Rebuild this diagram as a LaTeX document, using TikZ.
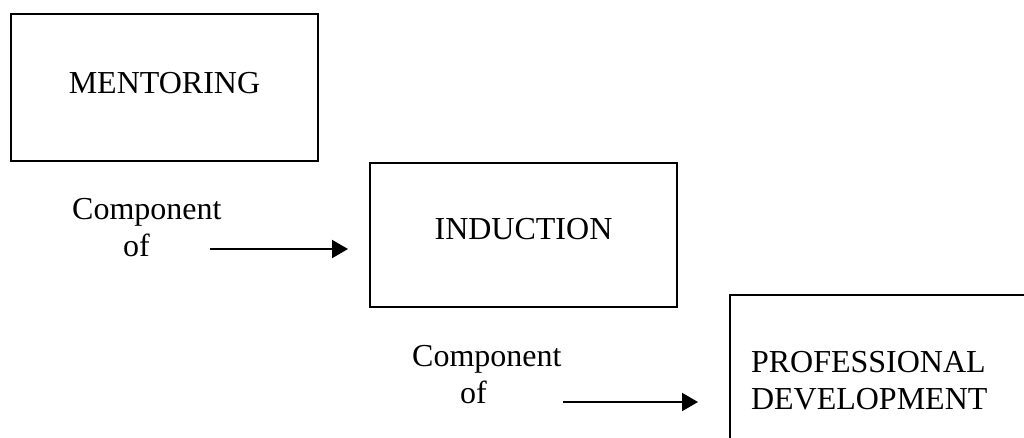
\documentclass[tikz,border=0pt]{standalone}
\usepackage{fontspec}
\setmainfont{Liberation Serif}
\usetikzlibrary{arrows.meta}
\begin{document}
\begin{tikzpicture}[x=1pt,y=-1pt,
  every node/.style={font=\fontsize{32}{37}\selectfont},
  conceptbox/.style={draw=black,line width=2pt,inner sep=0pt},
  caption/.style={align=left,inner sep=0pt,anchor=north west},
  link/.style={line width=2pt,-{Triangle[length=16pt,width=18pt]}}]
  \useasboundingbox (0,0) rectangle (1024,437);
  \clip (0,0) rectangle (1024,437);

  % concept boxes
  \node[conceptbox,minimum width=307pt,minimum height=147pt,text depth=9pt]
    (ment) at (164.5,87.5) {MENTORING};
  \node[conceptbox,minimum width=307pt,minimum height=144pt,text depth=13pt]
    (ind) at (523.5,235) {INDUCTION};
  \node[conceptbox,anchor=north west,align=left,text width=300pt,
        inner xsep=21pt,inner ysep=56pt]
    (pd) at (729,294) {PROFESSIONAL\\DEVELOPMENT};

  % relation captions
  \node[caption] (c1) at (72,198.5) {Component\\\hspace*{51pt}of};
  \node[caption] (c2) at (412,345.5) {Component\\\hspace*{48pt}of};

  % arrows
  \coordinate (s1) at (210,249);
  \coordinate (s2) at (563,402);
  \draw[link,shorten >=21pt] (s1) -- (s1 -| ind.west);
  \draw[link,shorten >=31pt] (s2) -- (s2 -| pd.west);
\end{tikzpicture}
\end{document}
